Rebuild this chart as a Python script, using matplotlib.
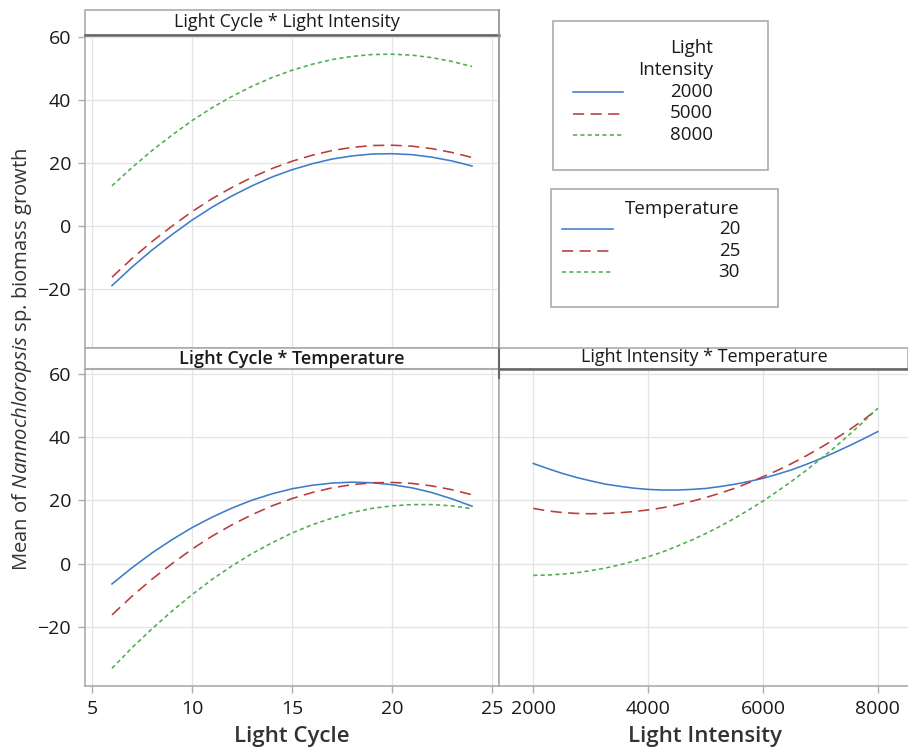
import matplotlib
matplotlib.use("Agg")
import matplotlib.pyplot as plt
from matplotlib.patches import Rectangle
from matplotlib.lines import Line2D

plt.rcParams['font.family'] = ['Open Sans', 'DejaVu Sans']
plt.rcParams['mathtext.fontset'] = 'custom'
plt.rcParams['mathtext.rm'] = 'Open Sans'
plt.rcParams['mathtext.it'] = 'Open Sans:italic'

# ---------------- data ----------------
light_cycle = [6, 7, 8, 9, 10, 11, 12, 13, 14, 15, 16, 17, 18, 19, 20, 21, 22, 23, 24]

# Panel: Light Cycle * Light Intensity
lcli_2000 = [-18.9, -13.0, -7.6, -2.7, 1.9, 6.0, 9.6, 12.8, 15.6, 17.9,
             19.8, 21.3, 22.3, 22.9, 23.0, 22.7, 21.9, 20.7, 19.1]
lcli_5000 = [-16.2, -10.3, -4.9, 0.0, 4.6, 8.7, 12.3, 15.5, 18.3, 20.6,
             22.5, 24.0, 25.0, 25.6, 25.7, 25.4, 24.6, 23.4, 21.8]
lcli_8000 = [12.8, 18.6, 24.0, 28.9, 33.5, 37.6, 41.2, 44.4, 47.2, 49.5,
             51.4, 52.9, 53.9, 54.5, 54.6, 54.3, 53.5, 52.3, 50.7]

# Panel: Light Cycle * Temperature
lct_20 = [-6.4, -1.3, 3.4, 7.6, 11.4, 14.7, 17.6, 20.1, 22.1, 23.7,
          24.8, 25.5, 25.8, 25.6, 25.0, 24.0, 22.5, 20.5, 18.2]
lct_25 = [-16.2, -10.3, -4.9, 0.0, 4.6, 8.7, 12.3, 15.5, 18.3, 20.6,
          22.5, 24.0, 25.0, 25.6, 25.7, 25.4, 24.6, 23.4, 21.8]
lct_30 = [-33.1, -26.6, -20.6, -15.0, -9.8, -5.0, -0.7, 3.2, 6.6, 9.7,
          12.3, 14.4, 16.2, 17.5, 18.3, 18.7, 18.7, 18.3, 17.4]

# Panel: Light Intensity * Temperature
light_intensity = [2000, 2250, 2500, 2750, 3000, 3250, 3500, 3750, 4000, 4250, 4500, 4750, 5000,
                   5250, 5500, 5750, 6000, 6250, 6500, 6750, 7000, 7250, 7500, 7750, 8000]
lit_20 = [31.7, 30.1, 28.6, 27.3, 26.2, 25.2, 24.5, 23.9, 23.5, 23.3, 23.3, 23.5, 23.8,
          24.4, 25.1, 26.0, 27.0, 28.3, 29.7, 31.4, 33.2, 35.2, 37.3, 39.5, 41.8]
lit_25 = [17.5, 16.7, 16.2, 15.9, 15.8, 15.9, 16.1, 16.5, 17.0, 17.7, 18.6, 19.7, 20.9,
          22.3, 23.8, 25.6, 27.5, 29.5, 31.7, 34.1, 36.7, 39.4, 42.3, 45.5, 49.0]
lit_30 = [-3.7, -3.6, -3.3, -2.9, -2.2, -1.4, -0.4, 0.8, 2.2, 3.7, 5.5, 7.4, 9.5,
          11.8, 14.3, 17.0, 19.8, 22.9, 26.1, 29.5, 33.1, 36.8, 40.8, 44.9, 49.2]

li_levels = ['2000', '5000', '8000']
temp_levels = ['20', '25', '30']

lc_ticks = [5, 10, 15, 20, 25]
li_ticks = [2000, 4000, 6000, 8000]
y_ticks = [-20, 0, 20, 40, 60]

# ---------------- styles ----------------
C_BLUE = '#3D7CC9'
C_RED = '#B93B3B'
C_GREEN = '#4DAE4D'
styles = [
    dict(color=C_BLUE, linestyle='-', linewidth=1.15),
    dict(color=C_RED, linestyle=(0, (7, 4)), linewidth=1.15),
    dict(color=C_GREEN, linestyle=(0, (2.6, 2.0)), linewidth=1.15),
]
FRAME = '#ABABAB'
GRID = '#E4E4E4'
TXT = '#1A1A1A'

W, H = 908, 747
fig = plt.figure(figsize=(W / 100, H / 100), dpi=100)


def px_axes(x0, y0, x1, y1):
    return fig.add_axes([x0 / W, 1 - y1 / H, (x1 - x0) / W, (y1 - y0) / H])


def style_ax(ax):
    for s in ax.spines.values():
        s.set_color(FRAME)
        s.set_linewidth(1.2)
    ax.grid(True, color=GRID, linewidth=0.9)
    ax.set_axisbelow(True)
    ax.tick_params(colors=TXT, labelsize=14, length=5, width=1, color=FRAME, pad=5)
    ax.set_yticks(y_ticks)


ax1 = px_axes(85, 35, 499, 348)
ax2 = px_axes(85, 369, 499, 686)
ax3 = px_axes(499, 369, 910, 686)

for ax in (ax1, ax2, ax3):
    style_ax(ax)

# panel 1
for ys, st in zip([lcli_2000, lcli_5000, lcli_8000], styles):
    ax1.plot(light_cycle, ys, **st)
ax1.set_xlim(4.65, 25.35)
ax1.set_ylim(-38.7, 60.7)
ax1.set_xticks(lc_ticks)
ax1.tick_params(axis='x', length=0, labelbottom=False)

# panel 2
for ys, st in zip([lct_20, lct_25, lct_30], styles):
    ax2.plot(light_cycle, ys, **st)
ax2.set_xlim(4.65, 25.35)
ax2.set_ylim(-38.7, 61.6)
ax2.set_xticks(lc_ticks)

# panel 3
for ys, st in zip([lit_20, lit_25, lit_30], styles):
    ax3.plot(light_intensity, ys, **st)
ax3.set_xlim(1403, 8560)
ax3.set_ylim(-38.7, 61.6)
ax3.set_xticks(li_ticks)
ax3.tick_params(axis='y', length=0, labelleft=False)

# ---------------- overlay (headers, legends, labels) ----------------
ov = fig.add_axes([0, 0, 1, 1], zorder=5)
ov.set_xlim(0, W)
ov.set_ylim(H, 0)
ov.axis('off')
ov.patch.set_alpha(0)

# axis titles
ov.text(292, 742, 'Light Cycle', ha='center', va='baseline', fontsize=16,
        fontweight='semibold', color='#333333')
ov.text(705, 742, 'Light Intensity', ha='center', va='baseline', fontsize=16,
        fontweight='semibold', color='#333333')

# headers
ov.add_patch(Rectangle((85, 10), 414, 25, facecolor='white', edgecolor=FRAME, linewidth=1.2))
ov.plot([85, 499], [35, 35], color='#666666', linewidth=1.8)
ov.text(287, 22, 'Light Cycle * Light Intensity', ha='center', va='center', fontsize=13, color=TXT)

ov.add_patch(Rectangle((85, 348), 823, 21, facecolor='white', edgecolor=FRAME, linewidth=1.2))
ov.plot([85, 499], [369, 369], color=FRAME, linewidth=1.5)
ov.plot([499, 910], [369, 369], color='#666666', linewidth=1.8)
ov.plot([499, 499], [348, 378], color='#666666', linewidth=1.5)
ov.plot([499, 499], [10, 348], color='#999999', linewidth=1.2)
ov.text(292, 359, 'Light Cycle * Temperature', ha='center', va='center', fontsize=13,
        fontweight='semibold', color=TXT)
ov.text(704, 357, 'Light Intensity * Temperature', ha='center', va='center', fontsize=13, color=TXT)

# legend 1
ov.add_patch(Rectangle((553, 21), 215, 149, facecolor='white', edgecolor=FRAME, linewidth=1.2))
ov.text(713, 48, 'Light', ha='right', va='center', fontsize=13.5, color=TXT)
ov.text(713, 70, 'Intensity', ha='right', va='center', fontsize=13.5, color=TXT)
for i, (lab, st) in enumerate(zip(li_levels, styles)):
    yy = 92 + i * 21.5
    ov.add_line(Line2D([573, 623], [yy, yy], **st))
    ov.text(713, yy, lab, ha='right', va='center', fontsize=13.5, color=TXT)

# legend 2
ov.add_patch(Rectangle((551, 189), 227, 118, facecolor='white', edgecolor=FRAME, linewidth=1.2))
ov.text(740, 209, 'Temperature', ha='right', va='center', fontsize=13.5, color=TXT)
for i, (lab, st) in enumerate(zip(temp_levels, styles)):
    yy = 229 + i * 21.5
    ov.add_line(Line2D([562, 613], [yy, yy], **st))
    ov.text(740, yy, lab, ha='right', va='center', fontsize=13.5, color=TXT)

# y label
ov.text(22, 359, r'Mean of $\it{Nannochloropsis}$ sp. biomass growth', rotation=90,
        ha='center', va='center', fontsize=14.6, color='#333333')

fig.savefig('out.png', dpi=100)
